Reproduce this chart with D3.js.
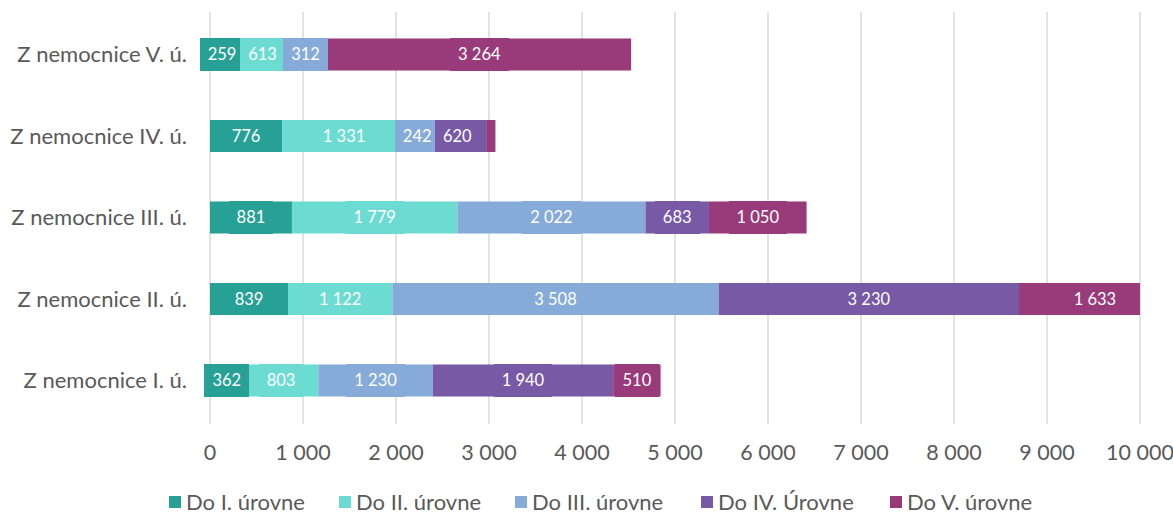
<!DOCTYPE html>
<html>
<head>
<meta charset="utf-8">
<script src="https://cdn.jsdelivr.net/npm/d3@7"></script>
<style>
  body { margin: 0; background: #fff; }
  svg { font-family: Lato, "Open Sans", sans-serif; }
</style>
</head>
<body>
<svg width="1173" height="515"></svg>
<script>
// ====== DATA ======
const categories = ["Z nemocnice I. ú.", "Z nemocnice II. ú.", "Z nemocnice III. ú.", "Z nemocnice IV. ú.", "Z nemocnice V. ú."];
const seriesNames = ["Do I. úrovne", "Do II. úrovne", "Do III. úrovne", "Do IV. Úrovne", "Do V. úrovne"];
const doI   = [362, 839, 881, 776, 259];
const doII  = [803, 1122, 1779, 1331, 613];
const doIII = [1230, 3508, 2022, 242, 312];
const doIV  = [1940, 3230, 683, 620, 80];
const doV   = [510, 1633, 1050, 100, 3264];
const xTicks = [0, 1000, 2000, 3000, 4000, 5000, 6000, 7000, 8000, 9000, 10000];
const colors = ["#27a195", "#6cdcd2", "#86abd8", "#7859a5", "#993b7a"];

const series = [doI, doII, doIII, doIV, doV];
const table = categories.map((c, i) => {
  const row = { cat: c };
  seriesNames.forEach((s, j) => row[s] = series[j][i]);
  return row;
});

const svg = d3.select("svg");
const fmt = v => d3.format(",")(v).replace(/,/g, " ");

const x = d3.scaleLinear().domain([0, 10000]).range([210, 1140]);
const y = d3.scaleBand()
  .domain(categories.slice().reverse())
  .range([13.75, 421.25])
  .paddingInner(0.607)
  .paddingOuter(0.3035);

// gridlines
svg.append("g")
  .selectAll("line")
  .data(xTicks)
  .enter().append("line")
  .attr("x1", d => x(d)).attr("x2", d => x(d))
  .attr("y1", 12).attr("y2", 424)
  .attr("stroke", "#d9d9d9")
  .attr("stroke-width", 1.5);

// x tick labels
svg.append("g")
  .selectAll("text")
  .data(xTicks)
  .enter().append("text")
  .attr("x", d => x(d))
  .attr("y", 460)
  .attr("text-anchor", "middle")
  .attr("fill", "#595959")
  .style("font-size", "21.5px")
  .text(d => fmt(d));

// category labels
svg.append("g")
  .selectAll("text")
  .data(categories)
  .enter().append("text")
  .attr("x", 187)
  .attr("y", d => y(d) + y.bandwidth() / 2)
  .attr("dy", "0.36em")
  .attr("text-anchor", "end")
  .attr("fill", "#595959")
  .style("font-size", "22px")
  .text(d => d);

// stacked bars
const stack = d3.stack().keys(seriesNames)(table);
const clip = v => Math.min(v, 10000);

const layer = svg.append("g").selectAll("g")
  .data(stack)
  .enter().append("g")
  .attr("fill", (d, i) => colors[i]);

layer.selectAll("rect")
  .data(d => d)
  .enter().append("rect")
  .attr("x", d => x(clip(d[0])))
  .attr("y", d => y(d.data.cat))
  .attr("width", d => x(clip(d[1])) - x(clip(d[0])))
  .attr("height", y.bandwidth());

// data labels, each on a small box in the segment colour
const labels = svg.append("g").selectAll("g")
  .data(stack)
  .enter().append("g")
  .attr("fill", (d, i) => colors[i]);

labels.each(function(s) {
  const g = d3.select(this);
  s.filter(d => x(clip(d[1])) - x(clip(d[0])) > 15).forEach(d => {
    const cx = (x(d[0]) + x(d[1])) / 2;
    const cy = y(d.data.cat) + y.bandwidth() / 2;
    const box = g.append("rect").attr("shape-rendering", "crispEdges");
    const t = g.append("text")
      .attr("x", cx)
      .attr("y", cy)
      .attr("dy", "0.36em")
      .attr("text-anchor", "middle")
      .attr("fill", "#fff")
      .style("font-size", "16.5px")
      .text(fmt(d[1] - d[0]));
    const w = t.node().getComputedTextLength() + 16;
    box.attr("x", cx - w / 2)
      .attr("y", y(d.data.cat))
      .attr("width", w)
      .attr("height", y.bandwidth());
  });
});

// legend
const legendX = [169, 339, 515, 701, 890];
const legend = svg.append("g").selectAll("g")
  .data(seriesNames)
  .enter().append("g")
  .attr("transform", (d, i) => `translate(${legendX[i]},502)`);

legend.append("rect")
  .attr("x", 0).attr("y", -6)
  .attr("width", 12).attr("height", 12)
  .attr("fill", (d, i) => colors[i]);

legend.append("text")
  .attr("x", 17)
  .attr("dy", "0.36em")
  .attr("fill", "#595959")
  .style("font-size", "22px")
  .text(d => d);
</script>
</body>
</html>
